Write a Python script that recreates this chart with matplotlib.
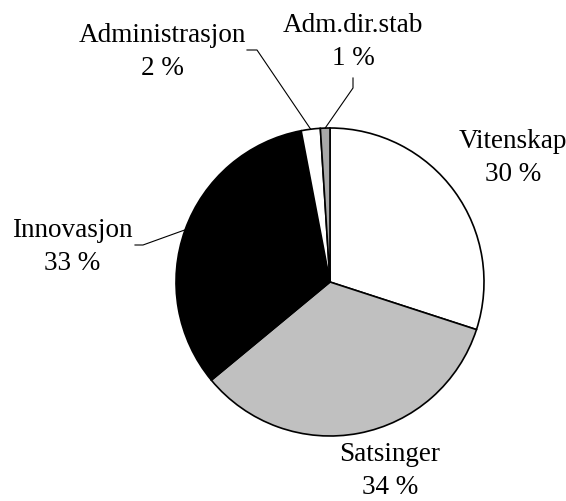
import numpy as np
import matplotlib
matplotlib.use("Agg")
import matplotlib.pyplot as plt

plt.rcParams['font.family'] = ['Liberation Serif', 'DejaVu Serif']

# data (clockwise from 12 o'clock)
categories = ['Vitenskap', 'Satsinger', 'Innovasjon', 'Administrasjon', 'Adm.dir.stab']
shares = [30, 34, 33, 2, 1]
colors = ['white', '#c0c0c0', 'black', 'white', '#a8a8a8']

W, H = 566, 501
fig = plt.figure(figsize=(W / 100, H / 100), dpi=100)
ax = fig.add_axes([0, 0, 1, 1])

cx, cy, r = 330, H - 282, 154
wedges, _ = ax.pie(shares, colors=colors, startangle=90, counterclock=False,
                   center=(cx, cy), radius=r, frame=True,
                   wedgeprops=dict(edgecolor='black', linewidth=1.2))
ax.set_xlim(0, W)
ax.set_ylim(0, H)
ax.set_aspect('equal')
ax.axis('off')

# label spots (centre x, baseline y from top) and leader start points
label_pos = {
    'Vitenskap': (513, 148),
    'Satsinger': (390, 461),
    'Innovasjon': (72, 237),
    'Administrasjon': (162, 42),
    'Adm.dir.stab': (353, 32),
}
leaders = {
    'Innovasjon': [(135, 245), (143, 245)],
    'Administrasjon': [(247, 50), (257, 50)],
    'Adm.dir.stab': [(353, 78), (353, 88)],
}

for w, name, p in zip(wedges, categories, shares):
    x, y = label_pos[name]
    ax.text(x, H - y, name, ha='center', va='baseline', fontsize=19.5)
    ax.text(x, H - y - 33, f"{p} %", ha='center', va='baseline', fontsize=19.5)
    if name in leaders:
        mid = np.deg2rad((w.theta1 + w.theta2) / 2)
        ex, ey = cx + r * np.cos(mid), cy + r * np.sin(mid)
        pts = leaders[name]
        xs = [pts[0][0], pts[1][0], ex]
        ys = [H - pts[0][1], H - pts[1][1], ey]
        ax.plot(xs, ys, color='black', linewidth=0.8)

fig.savefig('out.png', dpi=100)
